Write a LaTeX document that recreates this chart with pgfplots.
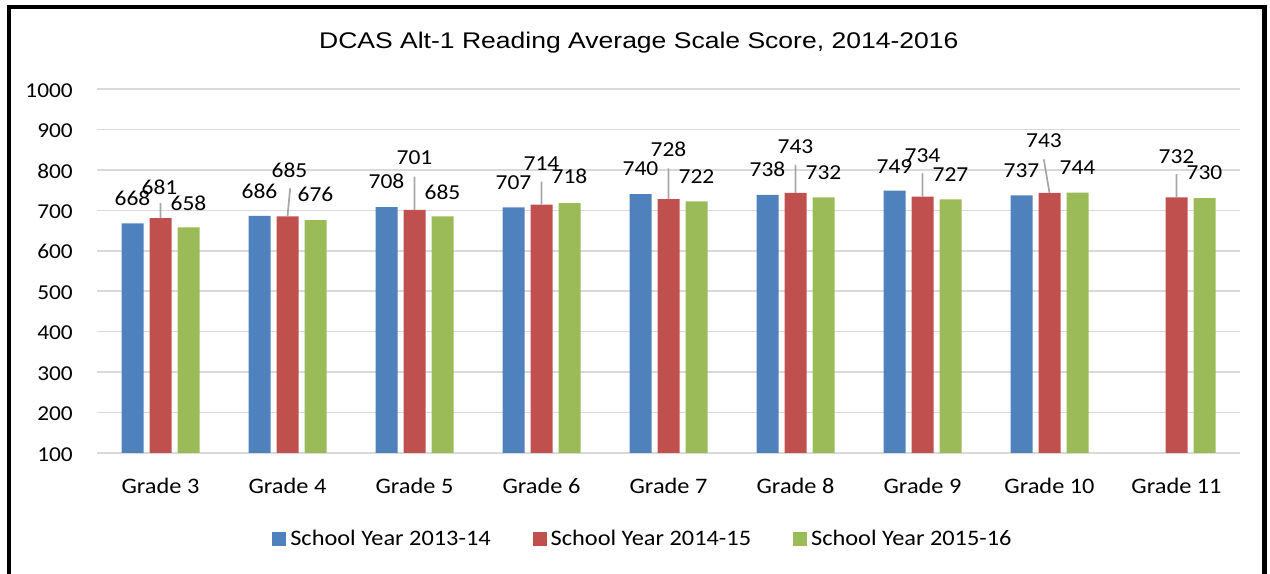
\documentclass[border=0pt]{standalone}
\usepackage{pgfplots}
\pgfplotsset{compat=1.18}
\usepackage{pgfplotstable}
\usepackage{fontspec}
\setmainfont{Carlito}[FakeStretch=1.1]
\newfontfamily\titlefont{Liberation Sans}[FakeStretch=1.17]
\definecolor{cblue}{HTML}{4F81BD}
\definecolor{cred}{HTML}{C0504D}
\definecolor{cgreen}{HTML}{9BBB59}
\definecolor{cgrid}{HTML}{D9D9D9}
\definecolor{clead}{HTML}{A6A6A6}

\pgfplotstableread{
x y dx dy
0 668 0 17.3
1 686 0 17.7
2 708 0 18.8
3 707 0 17.5
4 740 0 18.2
5 738 0 18.3
6 749 0 17.2
7 737 0 17.7
}\tblue

\pgfplotstableread{
x y dx dy
0 681 -1 24
1 685 2 39
2 701 0 45.7
3 714 0 33.7
4 728 0 42.3
5 743 0 39.7
6 734 0 34.3
7 743 -5.5 45.3
8 732 0 34.1
}\tred

\pgfplotstableread{
x y dx dy
0 658 0 17.3
1 676 0 18.3
2 685 0 17.1
3 718 0 19.8
4 722 0 18.1
5 732 0 17.4
6 727 0 18.4
7 744 0 18.5
8 730 0 18.2
}\tgreen

\pgfplotstableread{
x y
0 681
0 718.1
nan nan
1.0 685
1.021 754.5
nan nan
2 701
2 783.2
nan nan
3 714
3 770.8
nan nan
4 728
4 803.9
nan nan
5 743
5 812.1
nan nan
6 734
6 791.6
nan nan
7 743
6.955 826.2
nan nan
8 732
8 789.8
}\tlead

\newcommand\lblfont{\fontsize{16}{18}\selectfont}
\newcommand\ytkfont{\fontsize{15.9}{18}\selectfont}
\newcommand\xtkfont{\fontsize{16.6}{19}\selectfont}
\newcommand\lgfont{\fontsize{16.6}{19}\selectfont}

\begin{document}
\begin{tikzpicture}
\useasboundingbox (0,0) rectangle (952.5pt,430.5pt);
\draw[line width=3.1pt, line join=miter] (7pt,-3pt) -- (7pt,425.25pt) -- (948.4pt,425.25pt) -- (948.4pt,-3pt);
\begin{axis}[
  at={(72.75pt,90.75pt)}, anchor=south west,
  scale only axis, width=857.25pt, height=273pt,
  xmin=-0.5, xmax=8.5, ymin=100, ymax=1000,
  ybar=4.5pt, bar width=16.5pt,
  ytick={100,200,...,1000},
  xtick={0,...,8},
  xticklabels={Grade 3,Grade 4,Grade 5,Grade 6,Grade 7,Grade 8,Grade 9,Grade 10,Grade 11},
  axis line style={draw=none},
  tick style={draw=none},
  ymajorgrids, major grid style={draw=cgrid, line width=1.2pt},
  /pgf/number format/assume math mode=true,
  /pgf/number format/1000 sep={},
  yticklabel style={font=\ytkfont, anchor=base east, inner sep=0pt, xshift=-18pt, yshift=-6.1pt},
  xticklabel style={font=\xtkfont, anchor=base, inner sep=0pt, yshift=-26pt},
  title={DCAS Alt-1 Reading Average Scale Score, 2014-2016},
  title style={at={(0.474,1)}, anchor=base, yshift=24.5pt, font=\titlefont\fontsize{17}{20}\selectfont, inner sep=0pt},
  legend columns=3,
  legend style={at={(0.4785,-0.236)}, anchor=center, draw=none, fill=none, font=\lgfont,
    nodes={inner xsep=3pt, inner ysep=0pt},
    /tikz/every even column/.append style={column sep=28.5pt}},
  legend image code/.code={\fill[#1] (0pt,-5.3pt) rectangle (10.5pt,5.2pt);},
]
\addplot[fill=cblue, draw=none, bar shift=-21pt, nodes near coords,
  visualization depends on={\thisrow{dy}\as\labdy},
  visualization depends on={\thisrow{dx}\as\labdx},
  every node near coord/.append style={anchor=base, xshift=\labdx*0.75pt, yshift=\labdy*0.75pt, font=\lblfont, text=black, inner sep=0pt}]
  table[x=x,y=y]{\tblue};
\addplot[fill=cred, draw=none, bar shift=0pt, nodes near coords,
  visualization depends on={\thisrow{dy}\as\labdy},
  visualization depends on={\thisrow{dx}\as\labdx},
  every node near coord/.append style={anchor=base, xshift=\labdx*0.75pt, yshift=\labdy*0.75pt, font=\lblfont, text=black, inner sep=0pt}]
  table[x=x,y=y]{\tred};
\addplot[fill=cgreen, draw=none, bar shift=21pt, nodes near coords,
  visualization depends on={\thisrow{dy}\as\labdy},
  visualization depends on={\thisrow{dx}\as\labdx},
  every node near coord/.append style={anchor=base, xshift=\labdx*0.75pt, yshift=\labdy*0.75pt, font=\lblfont, text=black, inner sep=0pt}]
  table[x=x,y=y]{\tgreen};
\addplot[sharp plot, draw=clead, line width=1.3pt, mark=none, forget plot, unbounded coords=jump]
  table[x=x,y=y]{\tlead};
\legend{School Year 2013-14, School Year 2014-15, School Year 2015-16}
\end{axis}
\end{tikzpicture}
\end{document}
